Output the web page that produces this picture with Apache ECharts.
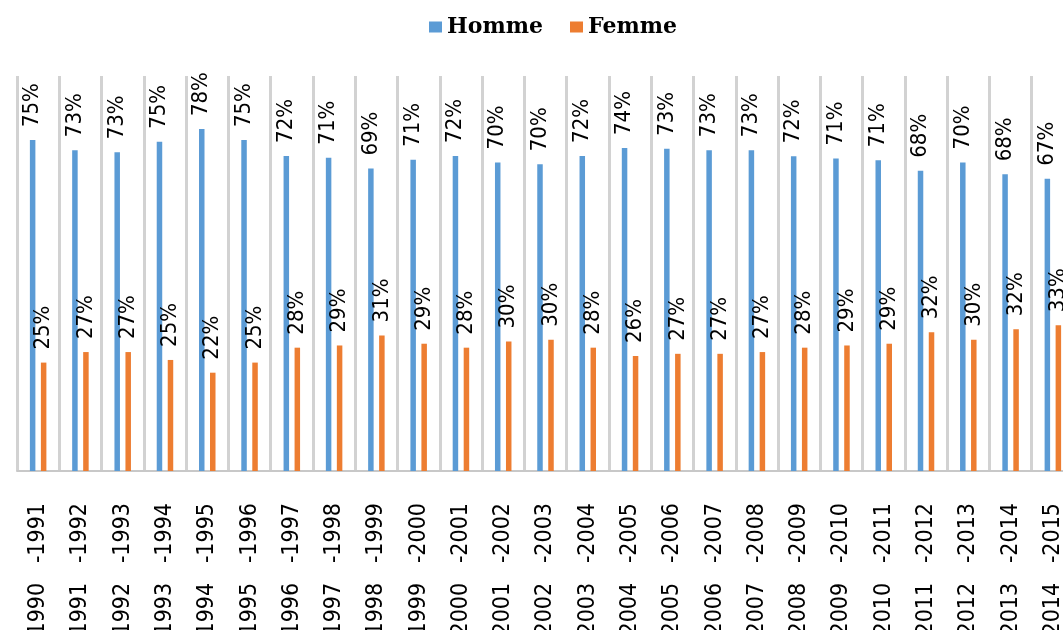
<!DOCTYPE html>
<html>
<head>
<meta charset="utf-8">
<script src="https://cdn.jsdelivr.net/npm/echarts@6/dist/echarts.min.js"></script>
<style>
  html, body { margin: 0; padding: 0; background: #fff; }
  #main { width: 1063px; height: 630px; }
</style>
</head>
<body>
<div id="main"></div>
<script>
// années scolaires
const years = [
  '1990 -1991', '1991 -1992', '1992 -1993', '1993 -1994', '1994 -1995',
  '1995 -1996', '1996 -1997', '1997 -1998', '1998 -1999', '1999 -2000',
  '2000 -2001', '2001 -2002', '2002 -2003', '2003 -2004', '2004 -2005',
  '2005 -2006', '2006 -2007', '2007 -2008', '2008 -2009', '2009 -2010',
  '2010 -2011', '2011 -2012', '2012 -2013', '2013 -2014', '2014 -2015'
];
// parts en %
const homme = [75.4, 73.1, 72.6, 75.0, 77.9, 75.4, 71.8, 71.4, 68.9, 70.9,
  71.8, 70.3, 69.9, 71.8, 73.6, 73.4, 73.1, 73.1, 71.7, 71.2,
  70.8, 68.4, 70.3, 67.6, 66.6];
const femme = [24.7, 27.1, 27.1, 25.3, 22.4, 24.7, 28.1, 28.6, 30.9, 29.0,
  28.1, 29.5, 29.9, 28.1, 26.2, 26.7, 26.7, 27.1, 28.1, 28.6,
  29.0, 31.6, 29.9, 32.3, 33.2];

const narrow = '"Liberation Sans Narrow", "Arial Narrow", "DejaVu Sans Condensed", sans-serif';

const valueLabel = {
  show: true,
  position: 'top',
  rotate: 90,
  align: 'left',
  verticalAlign: 'middle',
  distance: 13,
  color: '#000',
  fontFamily: narrow,
  fontSize: 22,
  formatter: p => Math.round(p.value) + '%'
};

const chart = echarts.init(document.getElementById('main'));
chart.setOption({
  animation: false,
  backgroundColor: '#fff',
  legend: {
    left: 424,
    top: 11,
    itemWidth: 13,
    itemHeight: 11,
    itemGap: 27,
    textStyle: {
      fontFamily: '"DejaVu Serif", serif',
      fontWeight: 'bold',
      fontSize: 22,
      color: '#000'
    },
    data: [
      { name: 'Homme', icon: 'rect' },
      { name: 'Femme', icon: 'rect' }
    ]
  },
  grid: { left: 17, right: -11, top: 76, bottom: 159, containLabel: false, outerBoundsMode: 'none' },
  xAxis: {
    type: 'category',
    data: years,
    axisLine: { lineStyle: { color: '#c8c8c8', width: 2 } },
    axisTick: { show: false },
    splitLine: { show: true, lineStyle: { color: '#d2d2d2', width: 3 } },
    axisLabel: {
      interval: 0,
      rotate: 90,
      margin: 32,
      color: '#000',
      fontFamily: narrow,
      fontSize: 23,
      formatter: v => v.replace(' ', '   ')
    }
  },
  yAxis: {
    type: 'value',
    min: 0,
    max: 90,
    show: false,
    splitLine: { show: false }
  },
  series: [
    {
      name: 'Homme',
      type: 'bar',
      data: homme,
      barWidth: 5.5,
      barGap: '100%',
      itemStyle: { color: '#5B9BD5' },
      label: valueLabel
    },
    {
      name: 'Femme',
      type: 'bar',
      data: femme,
      barWidth: 5.5,
      itemStyle: { color: '#ED7D31' },
      label: valueLabel
    }
  ]
});
</script>
</body>
</html>
